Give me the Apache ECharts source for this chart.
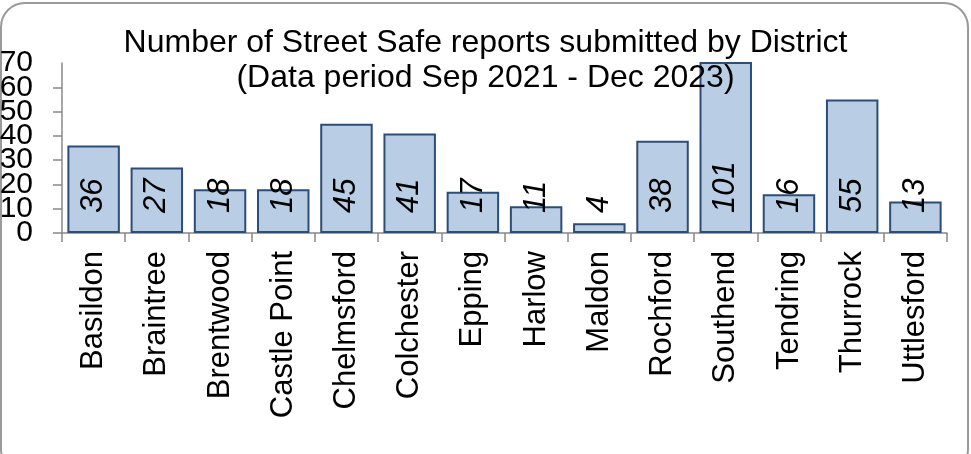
<!DOCTYPE html>
<html>
<head>
<meta charset="utf-8">
<script src="https://cdn.jsdelivr.net/npm/echarts@6/dist/echarts.min.js"></script>
<style>
  html, body { margin: 0; padding: 0; background: #fff; }
  #chart { width: 971px; height: 454px; }
</style>
</head>
<body>
<div id="chart"></div>
<script>
var districts = ["Basildon", "Braintree", "Brentwood", "Castle Point", "Chelmsford", "Colchester", "Epping",
  "Harlow", "Maldon", "Rochford", "Southend", "Tendring", "Thurrock", "Uttlesford"];
var reports = [36, 27, 18, 18, 45, 41, 17, 11, 4, 38, 101, 16, 55, 13];
var titleLines = ["Number of Street Safe reports submitted by District", "(Data period Sep 2021 - Dec 2023)"];

var myChart = echarts.init(document.getElementById("chart"));

var fontFam = "Liberation Sans, Arial, sans-serif";

// the tick labels are packed tighter than their font height, so split them
// across two overlaid axes (even tens / odd tens) to stop ECharts hiding some
function yAxisFor(showEven) {
  return {
    type: "value",
    position: "left",
    min: 0,
    max: 70,
    interval: 10,
    splitLine: { show: false },
    axisLine: { show: showEven, lineStyle: { color: "#888", width: 1.5 } },
    axisTick: { show: showEven, length: 9, lineStyle: { color: "#888", width: 1.5 } },
    axisLabel: {
      margin: 29,
      fontSize: 30,
      color: "#000",
      fontFamily: fontFam,
      showMinLabel: showEven,
      showMaxLabel: !showEven,
      formatter: function (v) {
        return ((v / 10) % 2 === 0) === showEven ? String(v) : "";
      }
    }
  };
}

var option = {
  animation: false,
  textStyle: { fontFamily: fontFam },
  title: {
    text: titleLines.join("\n"),
    left: "center",
    top: 21,
    textStyle: {
      fontFamily: fontFam,
      fontSize: 32,
      fontWeight: "normal",
      color: "#000",
      lineHeight: 35
    }
  },
  graphic: [{
    type: "rect",
    shape: { x: 1, y: 3, width: 967, height: 470, r: 24 },
    style: { fill: null, stroke: "#9a9a9a", lineWidth: 2 },
    silent: true,
    z: -1
  }],
  grid: {
    left: 62,
    right: 24,
    top: 63,
    bottom: 221,
    outerBoundsMode: "none"
  },
  xAxis: {
    type: "category",
    data: districts,
    axisLine: { lineStyle: { color: "#888", width: 1.5 } },
    axisTick: { show: true, length: 9, alignWithLabel: false, lineStyle: { color: "#888", width: 1.5 } },
    axisLabel: {
      rotate: 90,
      interval: 0,
      margin: 18,
      fontSize: 31,
      color: "#000",
      fontFamily: fontFam
    }
  },
  yAxis: [yAxisFor(true), yAxisFor(false)],
  series: [{
    type: "bar",
    yAxisIndex: 0,
    data: reports,
    barCategoryGap: "17%",
    itemStyle: {
      color: "#b9cde5",
      borderColor: "#2c4d75",
      borderWidth: 2
    },
    label: {
      show: true,
      position: "insideBottom",
      distance: 20,
      rotate: 90,
      align: "left",
      verticalAlign: "middle",
      fontSize: 31,
      fontStyle: "italic",
      color: "#000",
      fontFamily: fontFam
    }
  }]
};

myChart.setOption(option);
</script>
</body>
</html>
